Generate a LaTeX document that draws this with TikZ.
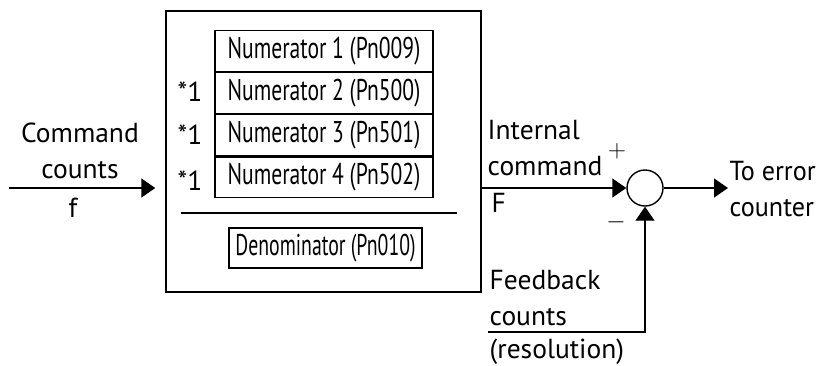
\documentclass[tikz,border=0pt]{standalone}
\usepackage{fontspec}
\setmainfont{PT Sans}
\newfontfamily\narrowfont[FakeStretch=0.72]{PT Sans}
\newfontfamily\denfont[FakeStretch=0.66]{PT Sans}
\newfontfamily\errfont[FakeStretch=0.95]{PT Sans}
\usetikzlibrary{arrows.meta,positioning}

\begin{document}
\begin{tikzpicture}[x=1pt,y=-1pt,line width=1.4pt,
  every node/.style={font=\fontsize{27.5}{36}\selectfont,inner sep=0pt},
  >={Triangle[length=14pt,width=19pt]},
  numbox/.style={draw,minimum width=218pt,minimum height=40.7pt,font=\narrowfont\fontsize{30}{36}\selectfont},
  sign/.style={font=\fontsize{26}{26}\selectfont},
  sumjunction/.style={draw,circle,minimum size=36pt}]
 \useasboundingbox (0,0) rectangle (825,365);
 % gain block
 \node[draw,minimum width=315pt,minimum height=281pt] (gain) at (323.5,151.5) {};
 \node[numbox] (num1) at (324,50.9) {Numerator 1 (Pn009)};
 \node[numbox,below=0pt of num1] (num2) {Numerator 2 (Pn500)};
 \node[numbox,below=0pt of num2] (num3) {Numerator 3 (Pn501)};
 \node[numbox,below=0pt of num3] (num4) {Numerator 4 (Pn502)};
 \node[anchor=base east] (star2) at (203,101) {*1};
 \node[anchor=base east] (star3) at (203,144) {*1};
 \node[anchor=base east] (star4) at (203,190) {*1};
 \draw (181,213) -- (457,213);
 \node[numbox,minimum width=193pt,minimum height=40pt,font=\denfont\fontsize{30}{36}\selectfont] (den) at (325.5,248) {Denominator (Pn010)};
 % input
 \coordinate (cin) at (9,188);
 \draw[->,shorten >=10pt] (cin) -- (cin -| gain.west);
 \node[align=center,anchor=south] (cmd) at (80,180) {Command\\counts};
 \node[anchor=base] (f) at (73,217) {f};
 % comparator
 \node[sumjunction] (sum) at (645,188) {};
 \draw[->] (sum -| gain.east) -- (sum);
 \node[align=left,anchor=south west] (icmd) at (487,177) {Internal\\command};
 \node[anchor=base west] (F) at (491,212) {F};
 \node[sign] (plus) at (617,151) {$+$};
 \node[sign] (minus) at (616,222) {$-$};
 \coordinate (out) at (728,188);
 \draw[->] (sum) -- (out);
 \node[align=left,anchor=west,font=\errfont\fontsize{27.5}{36}\selectfont] (err) at (729,189) {To error\\counter};
 % feedback
 \coordinate (fb) at (488,332);
 \draw[->] (fb) -| (sum.south);
 \node[align=left,anchor=south west] (fbc) at (489,327) {Feedback\\counts};
 \node[anchor=base west] (res) at (489,358) {(resolution)};
\end{tikzpicture}
\end{document}
